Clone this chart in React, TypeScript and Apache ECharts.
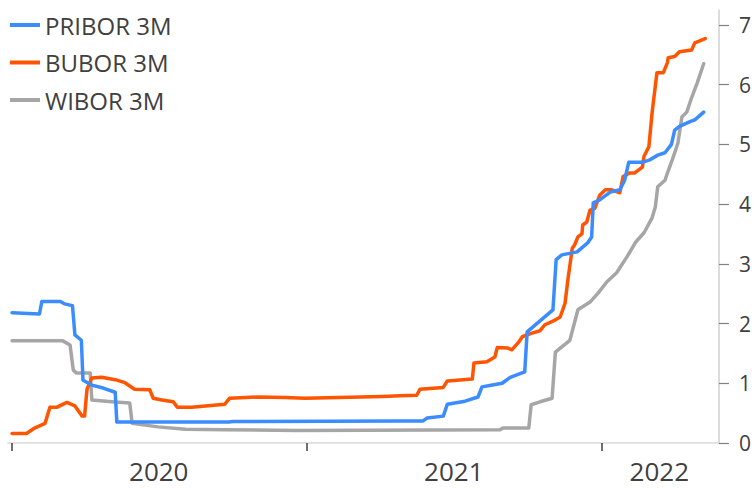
import React, { useEffect, useRef } from "react";
import * as echarts from "echarts";

const seriesNames = ["PRIBOR 3M", "BUBOR 3M", "WIBOR 3M"];
const yTicks = [0, 1, 2, 3, 4, 5, 6, 7];
const xTickDates = ["2020-01-01", "2021-01-01", "2022-01-01"];
const xLabelDates = ["2020-07-01", "2021-07-02", "2022-03-14"];
const xRange = ["2019-12-27", "2022-05-27"];

const pribor: [string, number][] = [
  ["2020-01-01", 2.18], ["2020-02-04", 2.16], ["2020-02-07", 2.37], ["2020-03-01", 2.37],
  ["2020-03-06", 2.33], ["2020-03-16", 2.3], ["2020-03-19", 1.81], ["2020-03-27", 1.72],
  ["2020-03-29", 1.05], ["2020-04-09", 0.97], ["2020-04-23", 0.92], ["2020-05-08", 0.85],
  ["2020-05-10", 0.35], ["2020-09-26", 0.35], ["2020-10-01", 0.36], ["2021-04-26", 0.37],
  ["2021-05-25", 0.37], ["2021-05-30", 0.42], ["2021-06-19", 0.45], ["2021-06-24", 0.65],
  ["2021-07-16", 0.7], ["2021-08-01", 0.77], ["2021-08-06", 0.94], ["2021-08-19", 0.97],
  ["2021-08-31", 1.0], ["2021-09-10", 1.1], ["2021-09-28", 1.19], ["2021-10-01", 1.86],
  ["2021-11-02", 2.23], ["2021-11-06", 3.07], ["2021-11-13", 3.15], ["2021-12-02", 3.2],
  ["2021-12-15", 3.35], ["2021-12-20", 3.45], ["2021-12-22", 4.02], ["2021-12-30", 4.07],
  ["2022-01-12", 4.2], ["2022-01-24", 4.24], ["2022-01-30", 4.4], ["2022-02-04", 4.7],
  ["2022-02-21", 4.7], ["2022-03-02", 4.74], ["2022-03-12", 4.82], ["2022-03-21", 4.86],
  ["2022-03-29", 5.0], ["2022-04-02", 5.24], ["2022-04-08", 5.3], ["2022-04-21", 5.38],
  ["2022-04-27", 5.41], ["2022-05-08", 5.54],
];

const bubor: [string, number][] = [
  ["2020-01-01", 0.16], ["2020-01-19", 0.16], ["2020-01-29", 0.25], ["2020-02-11", 0.33],
  ["2020-02-17", 0.6], ["2020-02-26", 0.6], ["2020-03-09", 0.68], ["2020-03-19", 0.62],
  ["2020-03-28", 0.45], ["2020-03-31", 0.45], ["2020-04-03", 0.9], ["2020-04-09", 1.09],
  ["2020-04-21", 1.1], ["2020-05-08", 1.06], ["2020-05-20", 1.01], ["2020-06-01", 0.9],
  ["2020-06-20", 0.89], ["2020-06-24", 0.75], ["2020-07-05", 0.72], ["2020-07-19", 0.69],
  ["2020-07-24", 0.6], ["2020-08-11", 0.6], ["2020-09-21", 0.65], ["2020-09-27", 0.75],
  ["2020-11-01", 0.77], ["2020-12-05", 0.76], ["2020-12-29", 0.75], ["2021-04-05", 0.78],
  ["2021-04-26", 0.79], ["2021-05-17", 0.8], ["2021-05-21", 0.9], ["2021-06-19", 0.93],
  ["2021-06-24", 1.04], ["2021-07-25", 1.07], ["2021-07-27", 1.34], ["2021-08-12", 1.36],
  ["2021-08-22", 1.44], ["2021-08-25", 1.6], ["2021-09-07", 1.59], ["2021-09-12", 1.56],
  ["2021-09-20", 1.68], ["2021-09-25", 1.78], ["2021-10-07", 1.84], ["2021-10-17", 1.88],
  ["2021-10-23", 1.98], ["2021-11-02", 2.04], ["2021-11-11", 2.11], ["2021-11-17", 2.34],
  ["2021-11-21", 2.78], ["2021-11-26", 3.26], ["2021-11-29", 3.32], ["2021-12-03", 3.45],
  ["2021-12-08", 3.5], ["2021-12-09", 3.65], ["2021-12-14", 3.7], ["2021-12-18", 3.9],
  ["2021-12-24", 3.93], ["2021-12-30", 4.15], ["2022-01-06", 4.24], ["2022-01-14", 4.24],
  ["2022-01-24", 4.19], ["2022-01-28", 4.46], ["2022-02-05", 4.52], ["2022-02-11", 4.52],
  ["2022-02-21", 4.62], ["2022-02-23", 4.8], ["2022-03-01", 4.96], ["2022-03-05", 5.53],
  ["2022-03-11", 6.2], ["2022-03-19", 6.2], ["2022-03-24", 6.37], ["2022-03-25", 6.45],
  ["2022-04-02", 6.47], ["2022-04-08", 6.55], ["2022-04-23", 6.58], ["2022-04-27", 6.7],
  ["2022-05-06", 6.75], ["2022-05-10", 6.77],
];

const wibor: [string, number][] = [
  ["2020-01-01", 1.71], ["2020-03-04", 1.71], ["2020-03-13", 1.64], ["2020-03-17", 1.22],
  ["2020-03-21", 1.17], ["2020-04-07", 1.17], ["2020-04-09", 0.72], ["2020-05-04", 0.69],
  ["2020-05-26", 0.67], ["2020-05-29", 0.33], ["2020-06-30", 0.27], ["2020-08-03", 0.23],
  ["2020-09-21", 0.22], ["2020-12-20", 0.21], ["2021-08-28", 0.22], ["2021-09-01", 0.25],
  ["2021-10-03", 0.25], ["2021-10-06", 0.64], ["2021-10-17", 0.69], ["2021-11-01", 0.75],
  ["2021-11-05", 1.52], ["2021-11-23", 1.72], ["2021-12-03", 2.23], ["2021-12-18", 2.36],
  ["2021-12-28", 2.51], ["2022-01-08", 2.7], ["2022-01-20", 2.85], ["2022-02-02", 3.12],
  ["2022-02-13", 3.37], ["2022-02-23", 3.52], ["2022-03-05", 3.77], ["2022-03-09", 3.95],
  ["2022-03-12", 4.29], ["2022-03-21", 4.4], ["2022-03-24", 4.52], ["2022-03-30", 4.74],
  ["2022-04-06", 5.02], ["2022-04-11", 5.46], ["2022-04-17", 5.54], ["2022-04-23", 5.78],
  ["2022-04-30", 6.03], ["2022-05-08", 6.35],
];

const colors = ["#3b8cff", "#ff5500", "#a6a6a6"];
const textColor = "#404040";
const font = "Open Sans";

const ts = (d: string) => Date.parse(d + "T00:00:00Z");

export default function App() {
  const ref = useRef<HTMLDivElement>(null);
  useEffect(() => {
    if (!ref.current) return;
    const chart = echarts.init(ref.current, undefined, { renderer: "svg" });
    const data = [pribor, bubor, wibor];
    const zs = [3, 2, 1];
    chart.setOption({
      animation: false,
      backgroundColor: "#ffffff",
      textStyle: { fontFamily: font },
      legend: {
        data: seriesNames,
        orient: "vertical",
        left: 5,
        top: 8,
        icon: "rect",
        itemWidth: 30,
        itemHeight: 4,
        itemGap: 13.5,
        textStyle: { fontFamily: font, fontSize: 24, color: textColor, lineHeight: 24 },
      },
      grid: { left: 8, right: 36, top: 10, bottom: 45, outerBoundsMode: "none" },
      xAxis: {
        type: "value",
        min: ts(xRange[0]),
        max: ts(xRange[1]),
        axisLine: { show: true, onZero: false, lineStyle: { color: "#d9d9d9", width: 1.5 } },
        axisTick: {
          show: true,
          customValues: xTickDates.map(ts),
          length: 8,
          lineStyle: { color: "#404040", width: 1.5 },
        },
        axisLabel: {
          customValues: xLabelDates.map(ts),
          formatter: (v: number) => String(new Date(v).getUTCFullYear()),
          fontFamily: font,
          fontSize: 26,
          lineHeight: 26,
          color: textColor,
          margin: 15,
        },
        splitLine: { show: false },
      },
      yAxis: {
        type: "value",
        position: "right",
        min: 0,
        max: 7.25,
        interval: 1,
        axisLine: { show: true, lineStyle: { color: "#d0d0d0", width: 1.5 } },
        axisTick: {
          show: true,
          customValues: yTicks,
          length: 10,
          lineStyle: { color: "#808080", width: 1.2 },
        },
        axisLabel: {
          customValues: yTicks,
          fontFamily: font,
          fontSize: 21,
          color: textColor,
          margin: 20,
        },
        splitLine: { show: false },
      },
      series: seriesNames.map((name, i) => ({
        name,
        type: "line",
        data: data[i].map(([d, v]) => [ts(d), v]),
        showSymbol: false,
        symbol: "none",
        z: zs[i],
        color: colors[i],
        lineStyle: { color: colors[i], width: 3.5, join: "round", cap: "round" },
      })),
    });
    return () => chart.dispose();
  }, []);
  return (
    <div
      ref={ref}
      style={{ position: "fixed", left: 0, top: 0, width: 755, height: 488, background: "#fff" }}
    />
  );
}
